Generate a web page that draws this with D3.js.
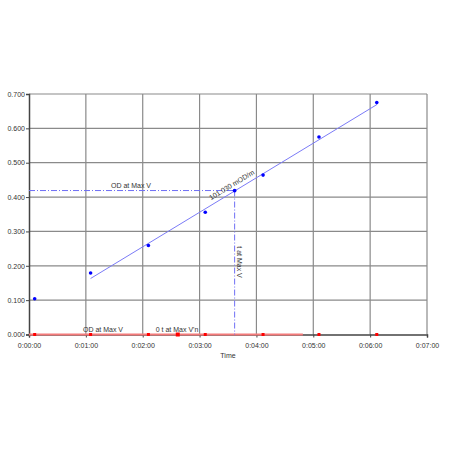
<!DOCTYPE html>
<html>
<head>
<meta charset="utf-8">
<script src="https://cdn.jsdelivr.net/npm/d3@7"></script>
<style>
  body { margin: 0; background: #fff; }
  text { font-family: "Liberation Sans", Arial, sans-serif; fill: #333; }
</style>
</head>
<body>
<svg id="chart" width="450" height="450"></svg>
<script>
// readings, time in seconds
const timesSec = [6, 65, 126, 186, 247, 306, 367];
const odValues = [0.104, 0.179, 0.259, 0.356, 0.464, 0.575, 0.675];
const rateValues = [0, 0, 0, 0, 0, 0, 0];

// fitted line, max V point
const fitTimes = [65, 367];
const fitOd = [0.163, 0.669];
const maxVTime = 217;
const maxVOd = 0.419;
const rateMaxTime = 157;
const rateLineEnd = 289;

const xTicks = [0, 60, 120, 180, 240, 300, 360, 420];
const yTicks = [0, 0.1, 0.2, 0.3, 0.4, 0.5, 0.6, 0.7];

const svg = d3.select("#chart");
const x = d3.scaleLinear().domain([0, 420]).range([29, 427]);
const y = d3.scaleLinear().domain([0, 0.7]).range([334.5, 94]);

function fmtTime(s) {
    var h = Math.floor(s / 3600), m = Math.floor(s / 60) % 60, sec = s % 60;
    return h + ":" + String(m).padStart(2, "0") + ":" + String(sec).padStart(2, "0");
}

// grid
svg.append("g").selectAll("line").data(yTicks.slice(1)).enter().append("line")
    .attr("x1", x(0)).attr("x2", x(420))
    .attr("y1", d => y(d)).attr("y2", d => y(d))
    .attr("stroke", "#8a8a8a").attr("stroke-width", 1.2);
svg.append("g").selectAll("line").data(xTicks.slice(1)).enter().append("line")
    .attr("x1", d => x(d)).attr("x2", d => x(d))
    .attr("y1", y(0.7)).attr("y2", y(0))
    .attr("stroke", "#8a8a8a").attr("stroke-width", 1.2);

// axes
const xAxis = svg.append("g").attr("transform", "translate(0," + y(0) + ")")
    .call(d3.axisBottom(x).tickValues(xTicks).tickFormat(fmtTime).tickSize(3).tickPadding(6));
const yAxis = svg.append("g").attr("transform", "translate(" + x(0) + ",0)")
    .call(d3.axisLeft(y).tickValues(yTicks).tickFormat(d3.format(".3f")).tickSize(3).tickPadding(1));
[xAxis, yAxis].forEach(a => {
    a.select(".domain").attr("stroke", "#444").attr("stroke-width", 1.5);
    a.selectAll(".tick line").attr("stroke", "#444");
    a.selectAll("text").style("font-size", "7px").attr("fill", "#333");
});

svg.append("text").attr("x", 228).attr("y", 358).attr("text-anchor", "middle")
    .style("font-size", "7px").text("Time");

// rate series line along zero
svg.append("line")
    .attr("x1", x(0)).attr("x2", x(rateLineEnd))
    .attr("y1", y(0)).attr("y2", y(0))
    .attr("stroke", "#f47a7a").attr("stroke-width", 2);

// max V guide lines
svg.append("line")
    .attr("x1", x(0)).attr("x2", x(maxVTime))
    .attr("y1", y(maxVOd)).attr("y2", y(maxVOd))
    .attr("stroke", "#6f6ff5").attr("stroke-width", 1)
    .attr("stroke-dasharray", "6,2,1,2");
svg.append("line")
    .attr("x1", x(maxVTime)).attr("x2", x(maxVTime))
    .attr("y1", y(maxVOd)).attr("y2", y(0))
    .attr("stroke", "#6f6ff5").attr("stroke-width", 1)
    .attr("stroke-dasharray", "6,2,1,2");

// fitted line
svg.append("line")
    .attr("x1", x(fitTimes[0])).attr("x2", x(fitTimes[1]))
    .attr("y1", y(fitOd[0])).attr("y2", y(fitOd[1]))
    .attr("stroke", "#7b7bf7").attr("stroke-width", 1);

// points
svg.append("g").selectAll("circle").data(timesSec).enter().append("circle")
    .attr("cx", d => x(d)).attr("cy", (d, i) => y(odValues[i]))
    .attr("r", 1.8).attr("fill", "#0000ff");
svg.append("circle").attr("cx", x(maxVTime)).attr("cy", y(maxVOd))
    .attr("r", 1.9).attr("fill", "#0000ff");

svg.append("g").selectAll("rect").data(timesSec).enter().append("rect")
    .attr("x", d => x(d) - 1.5).attr("y", (d, i) => y(rateValues[i]) - 1.5)
    .attr("width", 3).attr("height", 3).attr("fill", "#ff0000");
svg.append("rect").attr("x", x(rateMaxTime) - 2).attr("y", y(0) - 2)
    .attr("width", 4).attr("height", 4).attr("fill", "#ff0000");

// labels
svg.append("text").attr("x", 131).attr("y", 188).attr("text-anchor", "middle")
    .style("font-size", "7px").text("OD at Max V");
const ang = Math.atan2(y(fitOd[1]) - y(fitOd[0]), x(fitTimes[1]) - x(fitTimes[0])) * 180 / Math.PI;
svg.append("text").attr("text-anchor", "middle")
    .attr("transform", "translate(233,187) rotate(" + ang + ")")
    .style("font-size", "7px").text("101.030 mOD/m");
svg.append("text").attr("text-anchor", "middle")
    .attr("transform", "translate(236.5,262) rotate(90)")
    .style("font-size", "7px").text("t at Max V");
svg.append("text").attr("x", 103).attr("y", 332).attr("text-anchor", "middle")
    .style("font-size", "7px").text("OD at Max V");
svg.append("text").attr("x", 177).attr("y", 332).attr("text-anchor", "middle")
    .style("font-size", "7px").text("0 t at Max V'n");
</script>
</body>
</html>
